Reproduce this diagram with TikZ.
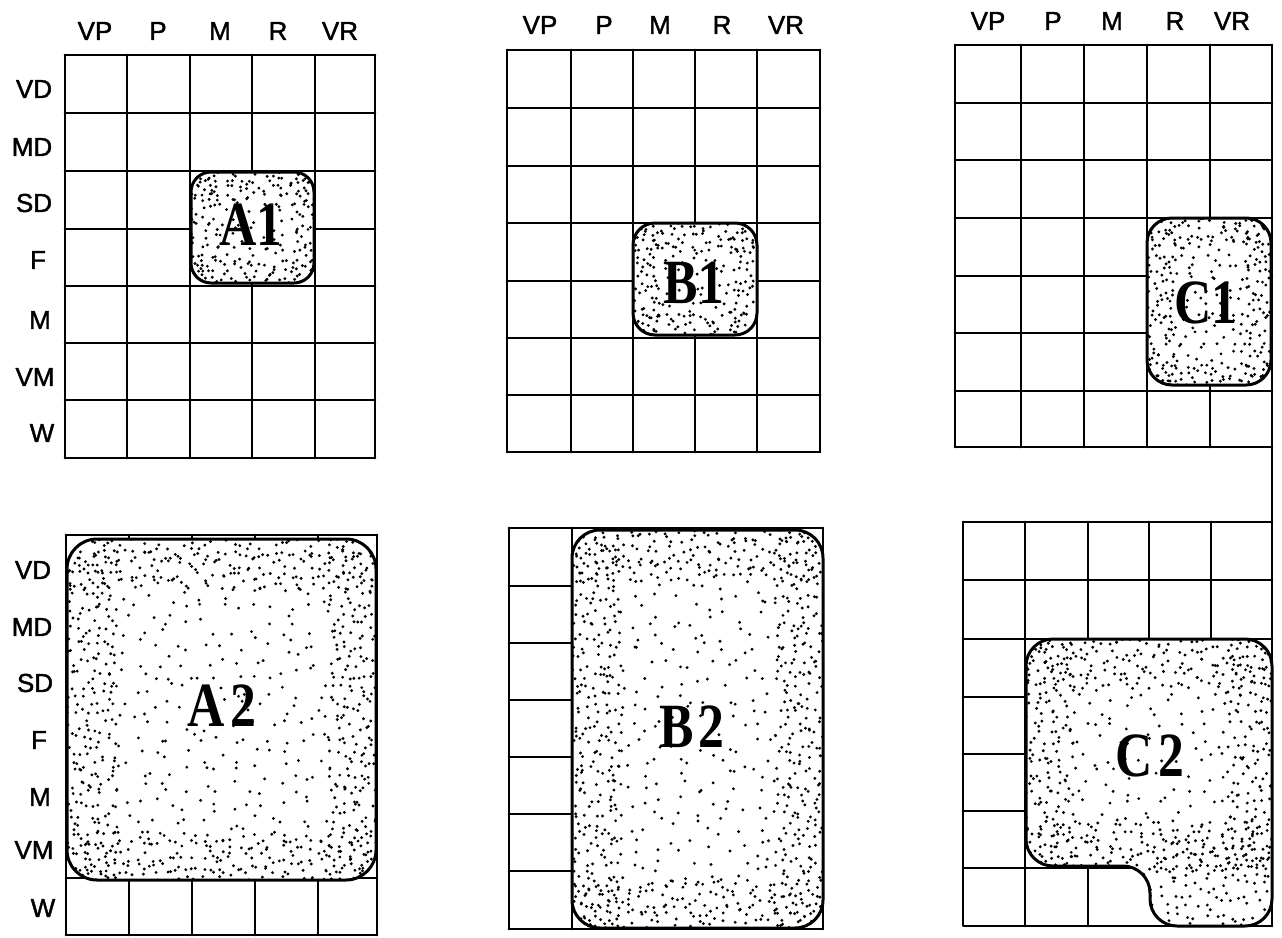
\documentclass[tikz,border=0pt]{standalone}
\usepackage{fontspec}
\setmainfont{Liberation Serif}
\setsansfont{Liberation Sans}
\newfontfamily\labfont[FakeBold=1.5]{Liberation Sans}
\usepackage{graphicx}
\tikzset{
  gridline/.style={line width=2.8pt, line cap=round, line join=round},
  blobline/.style={line width=3pt},
  axlab/.style={font=\labfont\fontsize{26}{26}\selectfont, inner sep=0pt},
  bloblab/.style={font=\rmfamily\bfseries\fontsize{63}{63}\selectfont, inner sep=0pt},
}
% jittered stipple: x0 y0 x1 y1 spacing
\newcommand\stip[5]{%
  \pgfmathtruncatemacro\nxx{((#3)-(#1))/(#5)}%
  \pgfmathtruncatemacro\nyy{((#4)-(#2))/(#5)}%
  \foreach \u in {0,...,\nxx}{\foreach \v in {0,...,\nyy}{%
    \fill ({(#1)+(\u+rnd)*(#5)},{(#2)+(\v+rnd)*(#5)}) circle[radius=1.6];}}}
% uniform layer + edge bands: x0 y0 x1 y1 uspacing bandwidth bspacing
\newcommand\blobstip[7]{%
  \stip{#1}{#2}{#3}{#4}{#5}%
  \stip{#1}{#2}{#3}{(#2)+(#6)}{#7}%
  \stip{#1}{(#4)-(#6)}{#3}{#4}{#7}%
  \stip{#1}{#2}{(#1)+(#6)}{#4}{#7}%
  \stip{(#3)-(#6)}{#2}{#3}{#4}{#7}}
\newcommand\fullgrid[6]{%
  \foreach \gx in {#1} \draw[gridline] (\gx,#5) -- (\gx,#6);
  \foreach \gy in {#2} \draw[gridline] (#3,\gy) -- (#4,\gy);}
\begin{document}
\begin{tikzpicture}[x=1pt,y=-1pt]
\pgfmathsetseed{4242}
\useasboundingbox (0,0) rectangle (1282,937);
\fill[white] (0,0) rectangle (1282,937);

% ---------- grids ----------
\fullgrid{65,127,190,252,315,375}{55,113,171,229,286,343,400,458}{65}{375}{55}{458}
\fullgrid{507,571,633,695,757,820}{50,108,166,223,281,338,395,452}{507}{820}{50}{452}
\fullgrid{955,1021,1084,1147,1210}{45,103,160,218,276,333,391,447}{955}{1272}{45}{447}
\draw[gridline] (1272,45) -- (1272,926);
% A2 grid
\fullgrid{66,129,192,255,318,377}{535,878,935}{66}{377}{535}{935}
% B2 grid
\fullgrid{509,572,823}{528,586,643,700,757,814,871,929}{509}{572}{528}{929}
\draw[gridline] (572,528) -- (823,528) -- (823,929) -- (572,929);
% C2 grid
\foreach \gx in {1088,1149,1211} \draw[gridline] (\gx,522) -- (\gx,639);
\foreach \gy in {522,580,639} \draw[gridline] (963,\gy) -- (1272,\gy);
\draw[gridline] (963,522) -- (963,926) -- (1272,926);
\draw[gridline] (1025,522) -- (1025,926);
\foreach \gy in {697,754,811} \draw[gridline] (963,\gy) -- (1025,\gy);
\draw[gridline] (963,868) -- (1150,868);
\draw[gridline] (1088,868) -- (1088,926);

% ---------- blobs ----------
% A1
\begin{scope}
  \clip[rounded corners=20pt] (191,172) rectangle (314,283);
  \fill[white] (191,172) rectangle (314,283);
  \blobstip{191}{172}{314}{283}{11}{24}{10}
\end{scope}
\draw[blobline, rounded corners=20pt] (191,172) rectangle (314,283);
% B1
\begin{scope}
  \clip[rounded corners=22pt] (633,223) rectangle (757,335);
  \fill[white] (633,223) rectangle (757,335);
  \blobstip{633}{223}{757}{335}{11}{24}{10}
\end{scope}
\draw[blobline, rounded corners=22pt] (633,223) rectangle (757,335);
% C1
\begin{scope}
  \clip[rounded corners=25pt] (1147,218) rectangle (1271,385);
  \fill[white] (1147,218) rectangle (1271,385);
  \blobstip{1147}{218}{1271}{385}{11}{26}{10}
\end{scope}
\draw[blobline, rounded corners=25pt] (1147,218) rectangle (1271,385);
% A2
\begin{scope}
  \clip[rounded corners=30pt] (67,539) rectangle (376,880);
  \fill[white] (67,539) rectangle (376,880);
  \blobstip{67}{539}{376}{880}{16}{48}{10}
\end{scope}
\draw[blobline, rounded corners=30pt] (67,539) rectangle (376,880);
% B2
\begin{scope}
  \clip[rounded corners=28pt] (572,530) rectangle (823,928);
  \fill[white] (572,530) rectangle (823,928);
  \blobstip{572}{530}{823}{928}{16}{48}{10}
\end{scope}
\draw[blobline, rounded corners=28pt] (572,530) rectangle (823,928);
% C2
\begin{scope}
  \clip[rounded corners=27pt] (1026,639) -- (1272,639) -- (1272,926) -- (1150,926) -- (1150,866) -- (1026,866) -- cycle;
  \fill[white] (1026,639) rectangle (1272,926);
  \blobstip{1026}{639}{1272}{866}{16}{45}{10}
  \stip{1150}{840}{1272}{926}{10}
\end{scope}
\draw[blobline, rounded corners=27pt] (1026,639) -- (1272,639) -- (1272,926) -- (1150,926) -- (1150,866) -- (1026,866) -- cycle;

% ---------- blob labels ----------
\node[bloblab] (lA1) at (251,225) {\scalebox{0.82}[1]{A1}};
\node[bloblab] (lB1) at (694,283) {\scalebox{0.82}[1]{B1}};
\node[bloblab] (lC1) at (1206,303) {\scalebox{0.82}[1]{C1}};
\node[bloblab] (lA2) at (222,706) {\scalebox{0.82}[1]{A\kern6pt2}};
\node[bloblab] (lB2) at (692,727) {\scalebox{0.82}[1]{B\kern6pt2}};
\node[bloblab] (lC2) at (1150,756) {\scalebox{0.82}[1]{C\kern6pt2}};

% ---------- axis labels ----------
\foreach \t/\x [count=\i] in {VP/95,P/158,M/220,R/278,VR/340}
  \node[axlab] (ta\i) at (\x,31) {\t};
\foreach \t/\x [count=\i] in {VP/540,P/604,M/660,R/722,VR/786}
  \node[axlab] (tb\i) at (\x,25) {\t};
\foreach \t/\x [count=\i] in {VP/988,P/1053,M/1112,R/1175,VR/1232}
  \node[axlab] (tc\i) at (\x,21) {\t};
\foreach \t/\x/\y [count=\i] in {VD/34/89,MD/32/147,SD/34/203,F/38/260,M/40/320,VM/35/377,W/42/433}
  \node[axlab] (ra\i) at (\x,\y) {\t};
\foreach \t/\x/\y [count=\i] in {VD/33/570,MD/32/627,SD/35/683,F/39/740,M/40/797,VM/34/850,W/43/908}
  \node[axlab] (rb\i) at (\x,\y) {\t};
\end{tikzpicture}
\end{document}
